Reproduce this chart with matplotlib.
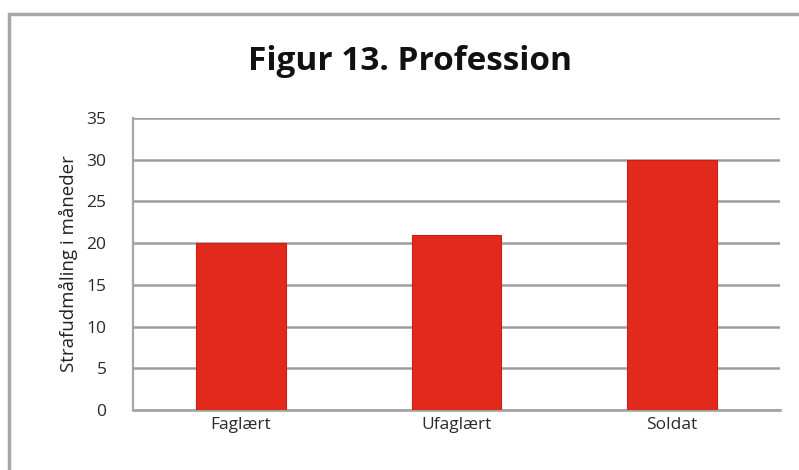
import matplotlib.pyplot as plt
from matplotlib.patches import Rectangle

# Strafudmåling efter profession
kategorier = ["Faglært", "Ufaglært", "Soldat"]
maaneder = [20, 21, 30]
y_ticks = [0, 5, 10, 15, 20, 25, 30, 35]

plt.rcParams['font.family'] = ['Open Sans', 'DejaVu Sans']

fig = plt.figure(figsize=(7.99, 4.70), dpi=100)
fig.patch.set_facecolor('white')

# ydre ramme om diagrammet
W, H = 799, 470
fig.add_artist(Rectangle((8.5 / W, -0.1), 1.2, (H - 13.5) / H + 0.1,
                         transform=fig.transFigure, fill=False,
                         edgecolor='#a6a6a6', linewidth=2.5))

ax = fig.add_axes([133 / W, 60 / H, (780 - 133) / W, (410 - 118) / H])
ax.bar(range(len(kategorier)), maaneder, width=0.415, color='#e2291c',
       edgecolor='#c8201a', linewidth=0.8, zorder=3)

ax.set_xlim(-0.5, len(kategorier) - 0.5)
ax.set_ylim(0, 35)
ax.set_yticks(y_ticks)
ax.set_xticks(range(len(kategorier)))
ax.set_xticklabels(kategorier, fontsize=12.5, color='#2a2a2a')
ax.tick_params(axis='y', labelsize=12.5, colors='#2a2a2a', length=0, pad=19)
ax.tick_params(axis='x', length=0, pad=5)
ax.grid(axis='y', color='#9e9e9e', linewidth=1.8, zorder=0)

for side in ['top', 'right']:
    ax.spines[side].set_visible(False)
ax.spines['left'].set_color('#a6a6a6')
ax.spines['left'].set_linewidth(1.6)
ax.spines['bottom'].set_color('#a6a6a6')
ax.spines['bottom'].set_linewidth(2)

ax.set_ylabel('Strafudmåling i måneder', fontsize=13.5, color='#222222',
              labelpad=6)
fig.text(410 / W, 1 - 61 / H, 'Figur 13. Profession', ha='center',
         va='center', fontsize=24, fontweight='bold', color='#111111')

fig.savefig('out.png', dpi=100)
